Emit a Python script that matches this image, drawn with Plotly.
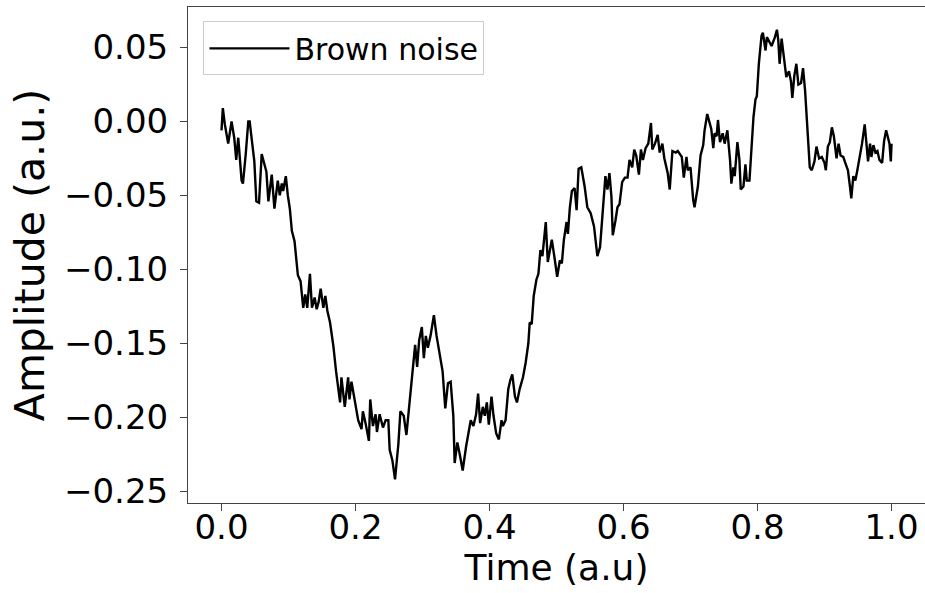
import plotly.graph_objects as go

# Time (a.u) and amplitude (a.u.) of the Brown noise trace
time = [
    0.000, 0.002, 0.005, 0.010, 0.015, 0.019, 0.022, 0.025, 0.030, 0.032,
    0.036, 0.040, 0.042, 0.046, 0.049, 0.052, 0.056, 0.060, 0.064, 0.067,
    0.070, 0.075, 0.079, 0.084, 0.087, 0.090, 0.092, 0.096, 0.099, 0.102,
    0.105, 0.109, 0.114, 0.118, 0.122, 0.125, 0.128, 0.132, 0.135, 0.139,
    0.142, 0.145, 0.148, 0.152, 0.155, 0.158, 0.162, 0.167, 0.171, 0.177,
    0.179, 0.184, 0.189, 0.191, 0.194, 0.199, 0.204, 0.209, 0.211, 0.215,
    0.220, 0.222, 0.226, 0.230, 0.232, 0.236, 0.241, 0.245, 0.249, 0.251,
    0.255, 0.259, 0.264, 0.267, 0.272, 0.276, 0.281, 0.285, 0.289, 0.292,
    0.295, 0.299, 0.302, 0.305, 0.308, 0.312, 0.317, 0.321, 0.325, 0.330,
    0.334, 0.338, 0.342, 0.346, 0.348, 0.352, 0.356, 0.360, 0.365, 0.368,
    0.372, 0.376, 0.380, 0.383, 0.386, 0.390, 0.393, 0.396, 0.399, 0.403,
    0.406, 0.410, 0.414, 0.418, 0.420, 0.424, 0.428, 0.431, 0.434, 0.438,
    0.441, 0.445, 0.450, 0.454, 0.458, 0.460, 0.463, 0.466, 0.470, 0.473,
    0.476, 0.479, 0.484, 0.487, 0.493, 0.497, 0.501, 0.505, 0.508, 0.511,
    0.515, 0.517, 0.520, 0.523, 0.527, 0.530, 0.533, 0.537, 0.542, 0.546,
    0.551, 0.556, 0.561, 0.565, 0.567, 0.571, 0.573, 0.576, 0.579, 0.582,
    0.584, 0.588, 0.591, 0.594, 0.598, 0.602, 0.606, 0.609, 0.613, 0.616,
    0.619, 0.623, 0.626, 0.629, 0.633, 0.637, 0.641, 0.643, 0.647, 0.651,
    0.654, 0.658, 0.661, 0.666, 0.669, 0.673, 0.678, 0.681, 0.687, 0.690,
    0.694, 0.696, 0.700, 0.704, 0.706, 0.711, 0.715, 0.719, 0.721, 0.725,
    0.728, 0.731, 0.734, 0.736, 0.739, 0.741, 0.744, 0.748, 0.751, 0.755,
    0.759, 0.761, 0.764, 0.766, 0.770, 0.773, 0.775, 0.779, 0.782, 0.784,
    0.788, 0.791, 0.794, 0.797, 0.799, 0.802, 0.806, 0.808, 0.812, 0.814,
    0.817, 0.821, 0.826, 0.829, 0.831, 0.833, 0.836, 0.839, 0.843, 0.847,
    0.850, 0.852, 0.855, 0.858, 0.861, 0.865, 0.868, 0.871, 0.873, 0.876,
    0.878, 0.881, 0.885, 0.888, 0.892, 0.896, 0.900, 0.902, 0.905, 0.908,
    0.911, 0.914, 0.918, 0.921, 0.924, 0.928, 0.931, 0.935, 0.938, 0.940,
    0.943, 0.946, 0.949, 0.953, 0.956, 0.960, 0.963, 0.965, 0.968, 0.970,
    0.973, 0.976, 0.979, 0.982, 0.986, 0.989, 0.992, 0.994, 0.997, 0.999,
    1.000,
]
amplitude = [
    -0.006, 0.009, -0.002, -0.015, 0.000, -0.011, -0.026, -0.011, -0.040, -0.042,
    -0.023, 0.000, 0.000, -0.014, -0.027, -0.054, -0.055, -0.022, -0.029, -0.034,
    -0.054, -0.036, -0.059, -0.040, -0.050, -0.042, -0.047, -0.037, -0.050, -0.059,
    -0.074, -0.081, -0.104, -0.108, -0.126, -0.117, -0.126, -0.103, -0.126, -0.119,
    -0.127, -0.122, -0.113, -0.126, -0.118, -0.128, -0.136, -0.152, -0.169, -0.190,
    -0.173, -0.193, -0.173, -0.188, -0.176, -0.190, -0.202, -0.208, -0.196, -0.204,
    -0.216, -0.188, -0.206, -0.198, -0.210, -0.198, -0.207, -0.202, -0.202, -0.222,
    -0.229, -0.242, -0.218, -0.196, -0.199, -0.212, -0.187, -0.170, -0.151, -0.166,
    -0.148, -0.139, -0.160, -0.145, -0.153, -0.145, -0.131, -0.145, -0.157, -0.169,
    -0.194, -0.177, -0.176, -0.199, -0.231, -0.217, -0.226, -0.236, -0.220, -0.211,
    -0.202, -0.206, -0.198, -0.184, -0.204, -0.193, -0.199, -0.190, -0.205, -0.186,
    -0.199, -0.211, -0.215, -0.202, -0.206, -0.202, -0.181, -0.175, -0.171, -0.186,
    -0.190, -0.181, -0.173, -0.163, -0.150, -0.136, -0.137, -0.118, -0.107, -0.103,
    -0.087, -0.091, -0.068, -0.095, -0.080, -0.092, -0.105, -0.094, -0.096, -0.080,
    -0.068, -0.076, -0.058, -0.047, -0.045, -0.060, -0.032, -0.031, -0.044, -0.058,
    -0.062, -0.071, -0.091, -0.085, -0.073, -0.051, -0.037, -0.046, -0.035, -0.051,
    -0.077, -0.067, -0.058, -0.056, -0.041, -0.038, -0.038, -0.026, -0.031, -0.019,
    -0.023, -0.036, -0.019, -0.026, -0.018, -0.015, -0.001, -0.019, -0.015, -0.009,
    -0.021, -0.015, -0.025, -0.035, -0.046, -0.020, -0.021, -0.020, -0.024, -0.038,
    -0.024, -0.033, -0.031, -0.053, -0.058, -0.044, -0.023, -0.016, -0.006, 0.005,
    -0.001, -0.005, -0.018, -0.008, -0.010, 0.001, -0.014, -0.008, -0.015, -0.006,
    -0.026, -0.042, -0.031, -0.037, -0.014, -0.026, -0.046, -0.044, -0.029, -0.040,
    -0.040, -0.015, 0.003, 0.015, 0.017, 0.039, 0.058, 0.060, 0.048, 0.057,
    0.054, 0.051, 0.057, 0.062, 0.055, 0.039, 0.056, 0.046, 0.030, 0.034,
    0.027, 0.016, 0.031, 0.039, 0.025, 0.026, 0.036, 0.021, 0.003, -0.016,
    -0.031, -0.033, -0.027, -0.017, -0.025, -0.024, -0.028, -0.033, -0.017, -0.014,
    -0.004, -0.010, -0.025, -0.015, -0.023, -0.024, -0.028, -0.033, -0.044, -0.052,
    -0.037, -0.040, -0.033, -0.024, -0.015, -0.002, -0.015, -0.027, -0.015, -0.024,
    -0.016, -0.021, -0.020, -0.026, -0.028, -0.013, -0.006, -0.009, -0.015, -0.027,
    -0.015,
]

x_ticks = [0.0, 0.2, 0.4, 0.6, 0.8, 1.0]
y_ticks = [0.05, 0.00, -0.05, -0.10, -0.15, -0.20, -0.25]

FONT = "DejaVu Sans"

fig = go.Figure()
fig.add_trace(go.Scatter(
    x=time, y=amplitude, mode="lines", name="Brown noise",
    line=dict(color="black", width=2.4),
))

axis_common = dict(
    showgrid=False, zeroline=False, showline=True, linecolor="#444444",
    linewidth=1, ticks="outside", ticklen=7, tickwidth=1.2,
    tickcolor="#444444", tickfont=dict(family=FONT, size=34, color="black"),
)

fig.update_xaxes(
    range=[-0.05, 1.05], tickvals=x_ticks, tickformat=".1f", mirror=True,
    ticklabelstandoff=-13,
    title=dict(text="Time (a.u)", font=dict(family=FONT, size=36, color="black"), standoff=0),
    **axis_common,
)
fig.update_yaxes(
    range=[-0.258, 0.0774], tickvals=y_ticks, tickformat=".2f", mirror=False,
    ticklabelstandoff=5,
    title=dict(text="Amplitude (a.u.)", font=dict(family=FONT, size=41, color="black"), standoff=6),
    **axis_common,
)

fig.update_layout(
    width=925, height=593,
    margin=dict(l=188, r=0, t=7, b=90, autoexpand=False),
    plot_bgcolor="white", paper_bgcolor="white",
    showlegend=True,
    legend=dict(
        x=0.021, y=0.971, xanchor="left", yanchor="top",
        bgcolor="rgba(255,255,255,0.8)", bordercolor="#cccccc", borderwidth=1,
        font=dict(family=FONT, size=30, color="black"),
        itemwidth=80,
    ),
)

fig.write_html("out.html")
